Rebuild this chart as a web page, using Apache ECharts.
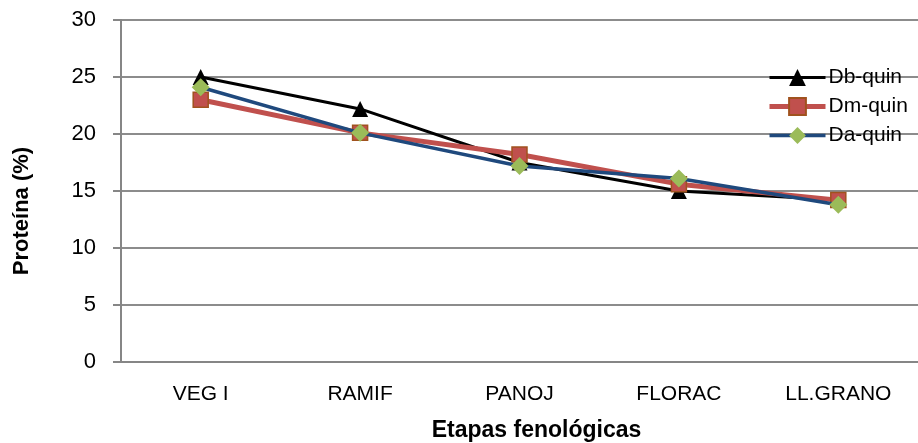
<!DOCTYPE html>
<html><head><meta charset="utf-8">
<script src="https://cdn.jsdelivr.net/npm/echarts@6/dist/echarts.min.js"></script>
<style>html,body{margin:0;padding:0;background:#fff}#c{width:918px;height:443px}</style>
</head><body><div id="c"></div>
<script>
const categories = ['VEG I','RAMIF','PANOJ','FLORAC','LL.GRANO'];
const dbQuin = [25.0, 22.2, 17.5, 15.0, 14.2];
const dmQuin = [23.0, 20.1, 18.2, 15.6, 14.2];
const daQuin = [24.1, 20.1, 17.2, 16.1, 13.8];
const yTicks = [0,5,10,15,20,25,30];

const font = "'Liberation Sans Narrow','Arial Narrow','Liberation Sans',Arial,sans-serif";
const boldFont = "'Liberation Sans',Arial,sans-serif";
const chart = echarts.init(document.getElementById('c'));
chart.setOption({
  animation:false,
  backgroundColor:'#fff',
  grid:{left:121,right:0,top:20,bottom:81,containLabel:false,outerBoundsMode:'none'},
  legend:{
    orient:'vertical', left:767, top:67, padding:0, itemWidth:56, itemHeight:21, itemGap:8,
    textStyle:{fontFamily:font,fontSize:21,color:'#000',padding:[0,0,0,-2]},
    data:[
      {name:'Db-quin',lineStyle:{width:3,color:'#000'}},
      {name:'Dm-quin',lineStyle:{width:5,color:'#C0504D'}},
      {name:'Da-quin',lineStyle:{width:3.5,color:'#1F497D'}}
    ]
  },
  xAxis:{
    type:'category', data:categories, boundaryGap:true,
    name:'Etapas fenológicas', nameLocation:'middle', nameGap:57,
    nameTextStyle:{fontFamily:boldFont,fontWeight:'bold',fontSize:23,color:'#000',padding:[0,0,0,34]},
    axisLine:{lineStyle:{color:'#868686',width:2}},
    axisTick:{show:false},
    axisLabel:{fontFamily:font,fontSize:21,color:'#000',margin:22}
  },
  yAxis:{
    type:'value', min:0, max:30, interval:5,
    name:'Proteína (%)', nameLocation:'middle', nameGap:88,
    nameTextStyle:{fontFamily:boldFont,fontWeight:'bold',fontSize:22,color:'#000',padding:[0,40,0,0]},
    axisLine:{show:true,lineStyle:{color:'#868686',width:2}},
    axisTick:{show:true,length:8,lineStyle:{color:'#868686',width:2}},
    axisLabel:{fontFamily:font,fontSize:22,color:'#000',margin:25,
      formatter:v=>yTicks.includes(v)?String(v):''},
    splitLine:{lineStyle:{color:'#8c8c8c',width:2}}
  },
  series:[
    {name:'Db-quin',type:'line',data:dbQuin,symbol:'triangle',symbolSize:16,
     lineStyle:{color:'#000',width:3},itemStyle:{color:'#000'},z:3},
    {name:'Dm-quin',type:'line',data:dmQuin,symbol:'rect',symbolSize:15,
     lineStyle:{color:'#C0504D',width:5},itemStyle:{color:'#C0504D',borderColor:'#A0521E',borderWidth:1.5},z:4},
    {name:'Da-quin',type:'line',data:daQuin,symbol:'diamond',symbolSize:18,
     lineStyle:{color:'#1F497D',width:3.5},itemStyle:{color:'#9BBB59'},z:5}
  ]
});
</script></body></html>
